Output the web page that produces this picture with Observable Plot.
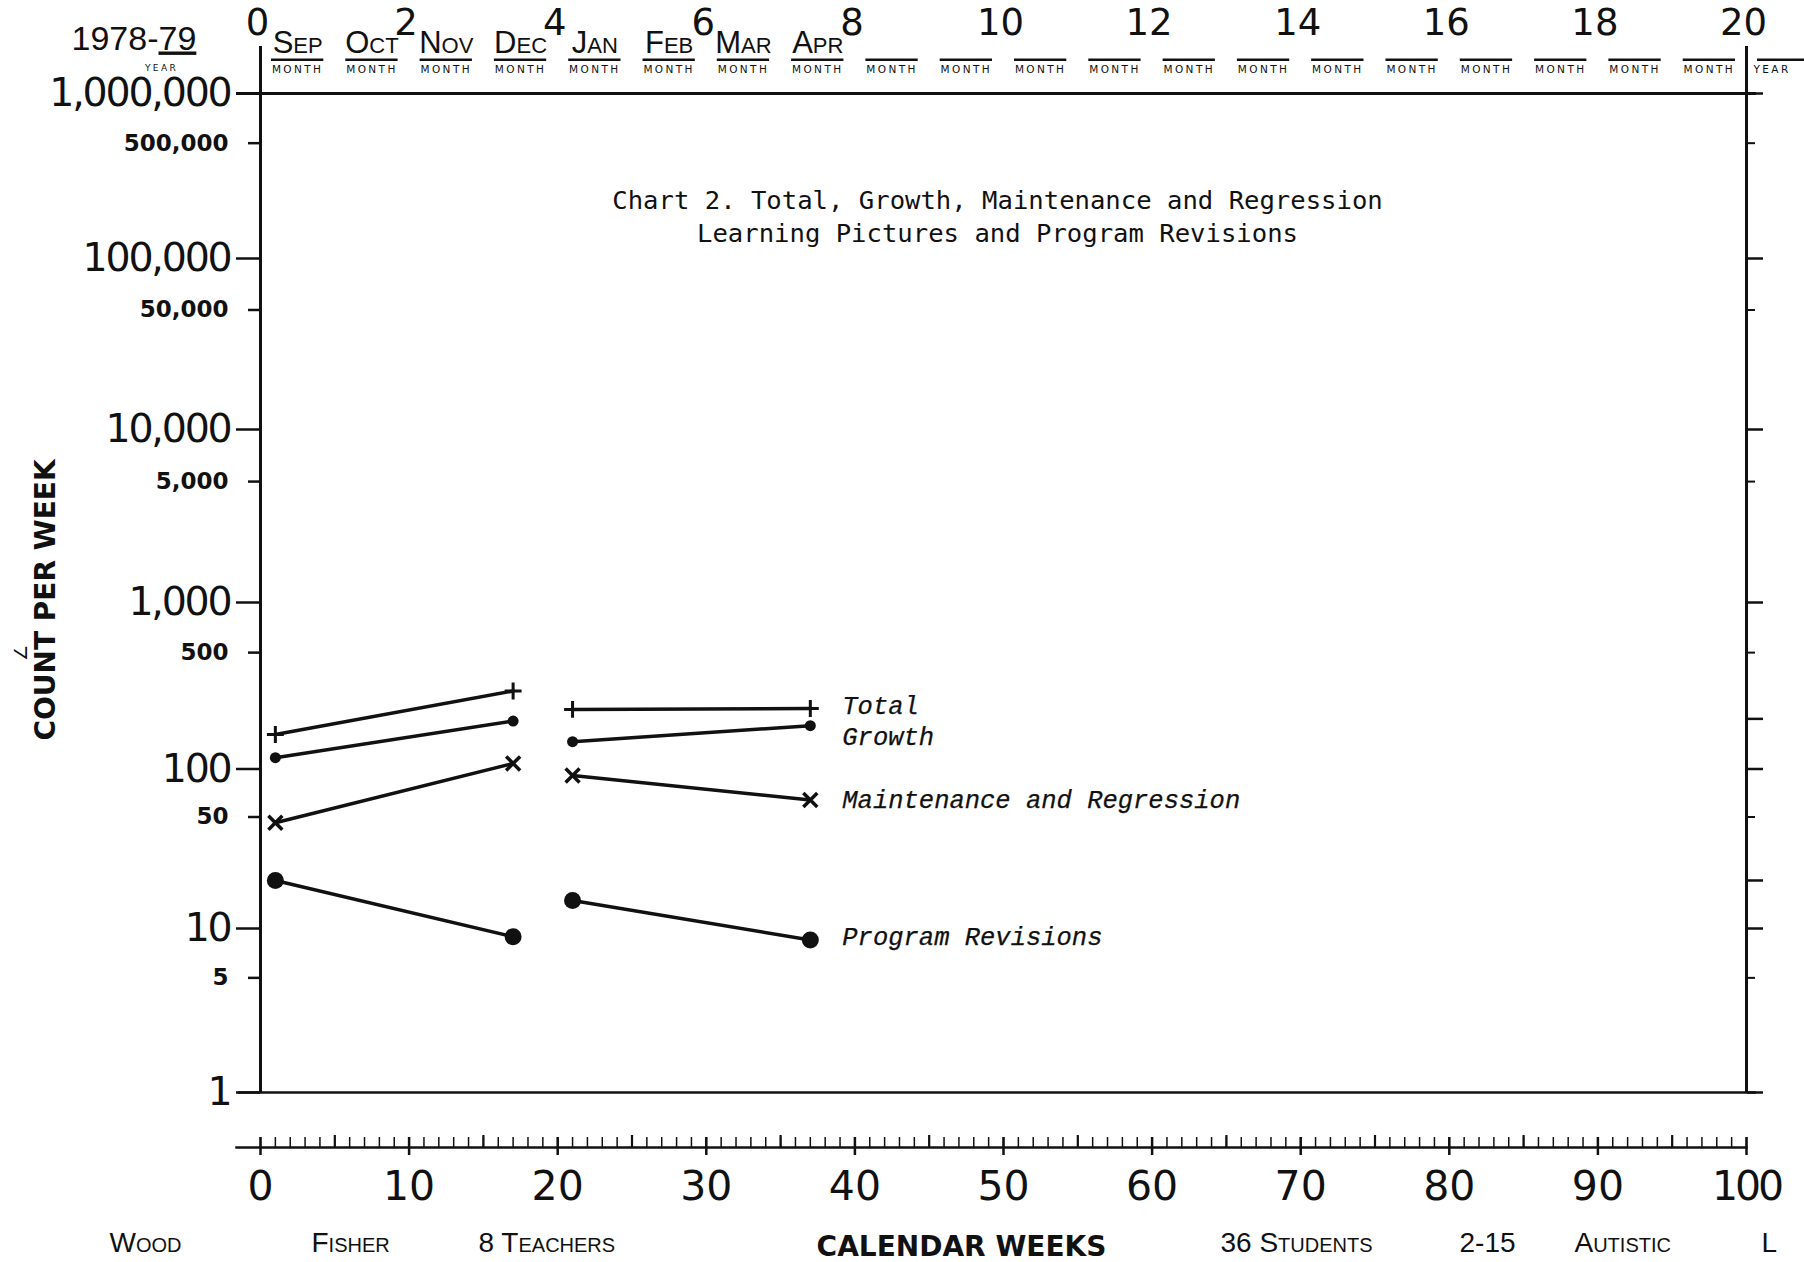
<!DOCTYPE html>
<html>
<head>
<meta charset="utf-8">
<script src="https://cdn.jsdelivr.net/npm/d3@7"></script>
<script src="https://cdn.jsdelivr.net/npm/@observablehq/plot@0.6"></script>
<style>
html, body { margin: 0; padding: 0; background: #fff; overflow: hidden; }
#chart svg { display: block; }
</style>
</head>
<body>
<div id="chart"></div>
<script>
// ---- data ----
const weeks = [1, 17, 21, 37];
const phases = ["before", "before", "after", "after"];
const totalCounts = [161, 294, 228, 231];
const growthCounts = [117, 194, 146, 182];
const maintenanceCounts = [46, 108, 91, 64];
const revisionCounts = [20, 8.9, 15, 8.5];
const seriesNames = ["Total", "Growth", "Maintenance and Regression", "Program Revisions"];

// ---- axis / header labels ----
const monthNames = ["Sep", "Oct", "Nov", "Dec", "Jan", "Feb", "Mar", "Apr"];
const monthBoxes = d3.range(20);
const topTickLabels = [0, 2, 4, 6, 8, 10, 12, 14, 16, 18, 20];
const weekTickLabels = [0, 10, 20, 30, 40, 50, 60, 70, 80, 90, 100];
const decadeTicks = [1, 10, 100, 1000, 10000, 100000, 1000000];
const halfTicks = [5, 50, 500, 5000, 50000, 500000];
const extraRightTicks = [20, 200];
const titleText = "Chart 2. Total, Growth, Maintenance and Regression\nLearning Pictures and Program Revisions";
const footerNotes = ["Wood", "Fisher", "8 Teachers", "36 Students", "2-15", "Autistic", "L"];

// ---- layout (pixels) ----
const footerLeft = [109, 311, 478, 1220, 1459, 1574, 1761];
const labelDy = [-3, 11, 0, -3];

const values = [totalCounts, growthCounts, maintenanceCounts, revisionCounts];
const rows = seriesNames.flatMap((name, s) =>
  weeks.map((w, i) => ({series: name, week: w, phase: phases[i], count: values[s][i]})));
const bySeries = name => rows.filter(d => d.series === name);
const lastOf = name => bySeries(name).slice(-1);

const ink = "#111";
const W = 1804, H = 1262;
const marginTop = 46, marginBottom = 115, marginLeft = 236, marginRight = 58;
const frameBottom = H - marginBottom;

const marks = [
  // bottom calendar-weeks axis line
  Plot.frame({anchor: "bottom", stroke: ink, strokeWidth: 2.5}),
  // left and right vertical axes
  Plot.ruleX([0, 100], {stroke: ink, strokeWidth: 3, insetBottom: frameBottom - 1092}),
  // month separators
  Plot.ruleX(d3.range(5, 100, 5), {y2: () => 1e6, stroke: ink, strokeWidth: 2.5}),
  // top and bottom frame lines
  Plot.ruleY([1e6], {stroke: ink, strokeWidth: 3, insetRight: -10}),
  Plot.ruleY([1], {stroke: ink, strokeWidth: 2.5, insetLeft: 2, insetRight: -10}),
  // month box rules
  Plot.rect(monthBoxes.concat([20]), {x1: d => d * 5, x2: d => d * 5 + 5, insetLeft: 11, insetRight: 11,
    insetTop: 12.5, insetBottom: frameBottom - 61, fill: ink}),
  Plot.text(monthNames, {x: (d, i) => i * 5 + 2.5, text: d => d, frameAnchor: "top", dy: 6, lineAnchor: "bottom",
    fontSize: 31, fontFamily: "Liberation Sans", fontVariant: "small-caps", fill: ink}),
  Plot.text(monthBoxes, {x: d => d * 5 + 2.5, text: () => "MONTH", frameAnchor: "top", dy: 26, lineAnchor: "bottom",
    fontSize: 10.5, fontFamily: "DejaVu Sans", fill: ink}),
  Plot.text(["YEAR"], {x: () => 100, frameAnchor: "top", dx: 7, dy: 26, lineAnchor: "bottom", textAnchor: "start",
    fontSize: 10.5, fontFamily: "DejaVu Sans", fill: ink}),
  // month numbers on top
  Plot.axisX(weekTickLabels, {anchor: "top", tickSize: 0, tickPadding: 12, tickFormat: d => String(d / 5),
    fontSize: 37, fontFamily: "DejaVu Sans", dx: -3, fill: ink, label: null}),
  // calendar week axis
  Plot.axisX(d3.range(0, 101), {anchor: "bottom", tickSize: 10, dy: -10, text: null, stroke: ink, strokeWidth: 1.5, label: null}),
  Plot.axisX(d3.range(5, 100, 10), {anchor: "bottom", tickSize: 12, dy: -12, text: null, stroke: ink, strokeWidth: 2.2, label: null}),
  Plot.axisX(weekTickLabels, {anchor: "bottom", tickSize: 18, dy: -10, tickPadding: 15.5, fontSize: 41,
    fontFamily: "DejaVu Sans", stroke: ink, strokeWidth: 2.5, fill: ink, label: null}),
  // left count axis
  Plot.axisY(decadeTicks, {anchor: "left", tickSize: 24, tickPadding: 6, dx: 24, tickFormat: d3.format(","),
    fontSize: 39.5, fontFamily: "DejaVu Sans", stroke: ink, strokeWidth: 2.5, fill: ink, label: null}),
  Plot.axisY(halfTicks, {anchor: "left", tickSize: 12, tickPadding: 20, dx: 24, tickFormat: d3.format(","),
    fontSize: 23, fontWeight: "bold", fontFamily: "DejaVu Sans", stroke: ink, strokeWidth: 2.5, fill: ink, label: null}),
  // right count axis ticks
  Plot.axisY(decadeTicks.concat(extraRightTicks), {anchor: "right", tickSize: 16, text: null, stroke: ink, strokeWidth: 2.5, label: null}),
  Plot.axisY(halfTicks, {anchor: "right", tickSize: 8, text: null, stroke: ink, strokeWidth: 2, label: null}),
  // data lines
  Plot.line(rows, {x: "week", y: "count", z: d => d.series + d.phase, stroke: ink, strokeWidth: 3.5}),
  Plot.dot(bySeries("Total"), {x: "week", y: "count", symbol: "plus", r: 5.5, stroke: ink, strokeWidth: 3}),
  Plot.dot(bySeries("Growth"), {x: "week", y: "count", r: 5.5, fill: ink, stroke: null}),
  Plot.dot(bySeries("Maintenance and Regression"), {x: "week", y: "count", symbol: "times", r: 6.4, stroke: ink, strokeWidth: 3.5}),
  Plot.dot(bySeries("Program Revisions"), {x: "week", y: "count", r: 8.5, fill: ink, stroke: null}),
  // series labels
  ...seriesNames.map((name, s) => Plot.text(lastOf(name), {x: "week", y: "count", text: () => name,
    dx: 32, dy: labelDy[s], textAnchor: "start", fontSize: 25.5, fontFamily: "Liberation Mono",
    fontStyle: "italic", fill: ink, stroke: ink, strokeWidth: 0.25})),
  // title
  Plot.text([titleText], {frameAnchor: "top", dx: 6, dy: 195, lineAnchor: "bottom", lineHeight: 1.28,
    fontSize: 25.6, fontFamily: "DejaVu Sans Mono", fill: ink}),
  // header year
  Plot.text(["1978-"], {frameAnchor: "top-left", dx: 158 - marginLeft, dy: 3, textAnchor: "end", lineAnchor: "bottom",
    fontSize: 34, fontFamily: "Liberation Sans", fill: ink}),
  Plot.text(["79"], {frameAnchor: "top-left", dx: 158 - marginLeft, dy: 3, textAnchor: "start", lineAnchor: "bottom",
    fontSize: 34, fontFamily: "Liberation Sans", fill: ink}),
  Plot.text(["YEAR"], {frameAnchor: "top-left", dx: 161 - marginLeft, dy: 24, textAnchor: "middle", lineAnchor: "bottom",
    fontSize: 9, fontFamily: "DejaVu Sans", fill: ink}),
  // axis titles
  Plot.text(["COUNT PER WEEK"], {frameAnchor: "left", dx: 46 - marginLeft, dy: 3, rotate: -90, textAnchor: "middle",
    fontSize: 28, fontWeight: "bold", fontFamily: "DejaVu Sans", fill: ink}),
  Plot.text(["∠"], {frameAnchor: "left", dx: 21 - marginLeft, dy: 56, rotate: -90, textAnchor: "middle", fontSize: 18,
    fontFamily: "DejaVu Sans", fill: ink}),
  Plot.text(["CALENDAR WEEKS"], {frameAnchor: "bottom", dx: -30, dy: 108, lineAnchor: "bottom", fontSize: 28,
    fontWeight: "bold", fontFamily: "DejaVu Sans", fill: ink}),
  // footer along the bottom edge
  ...footerNotes.map((t, i) => Plot.text([t], {frameAnchor: "bottom-left", dx: footerLeft[i] - marginLeft,
    dy: 104, textAnchor: "start", lineAnchor: "bottom", fontSize: 28,
    fontFamily: "Liberation Sans", fontVariant: "small-caps", fill: ink}))
];

const svg = Plot.plot({
  width: W,
  height: H,
  marginTop, marginBottom, marginLeft, marginRight,
  style: {background: "#fff", fontFamily: "DejaVu Sans", overflow: "hidden"},
  x: {type: "linear", domain: [0, 100], range: [260, 1746], label: null},
  y: {type: "log", domain: [1, 10, 100, 1000, 10000, 100000, 1000000],
      range: [1092, 928, 768.5, 602, 429, 258, 93], label: null},
  marks
});

// typographic touches
d3.select(svg).selectAll("text").each(function() {
  const t = this.textContent;
  const g = this.parentNode;
  const fs = g && g.getAttribute ? g.getAttribute("font-size") : null;
  if (t === "MONTH" || t === "YEAR") d3.select(this).attr("letter-spacing", 2.4);
  if (fs === "39.5") d3.select(this).attr("letter-spacing", -2.2);
  if (fs === "41" && t === "100") d3.select(this).attr("letter-spacing", -3);
  if (t === "79") d3.select(this)
    .style("text-decoration", "underline")
    .style("text-decoration-thickness", "2.5px")
    .style("text-underline-offset", "5px");
});

document.getElementById("chart").appendChild(svg);
</script>
</body>
</html>
